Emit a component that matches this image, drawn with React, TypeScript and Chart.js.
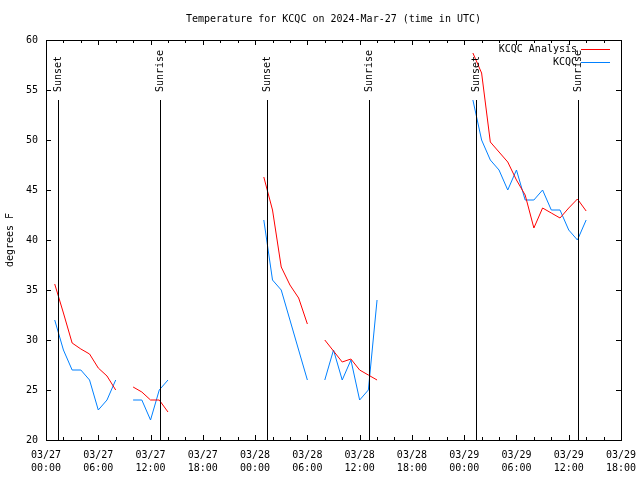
import React, { useEffect, useRef } from "react";
import { Chart, registerables } from "chart.js";

Chart.register(...registerables);

// Hours since 2024-03-27 00:00 UTC
const HOURS = [
  1, 2, 3, 4, 5, 6, 7, 8, 9, 10, 11, 12, 13, 14, 15, 16, 17, 18, 19, 20, 21,
  22, 23, 24, 25, 26, 27, 28, 29, 30, 31, 32, 33, 34, 35, 36, 37, 38, 39, 40,
  41, 42, 43, 44, 45, 46, 47, 48, 49, 50, 51, 52, 53, 54, 55, 56, 57, 58, 59,
  60, 61, 62,
];

const ANALYSIS = [
  35.6, 32.7, 29.7, 29.1, 28.6, 27.2, 26.4, 25.0, null, 25.3, 24.8, 24.0, 24.0,
  22.8, null, null, null, null, null, null, null, null, null, null, 46.3, 43.0,
  37.3, 35.5, 34.2, 31.6, null, 30.0, 28.9, 27.8, 28.1, 27.0, 26.5, 26.0, null,
  null, null, null, null, null, null, null, null, null, 58.7, 56.7, 49.8, 48.8,
  47.8, 46.0, 44.5, 41.2, 43.2, 42.7, 42.2, 43.2, 44.1, 42.9,
];

const OBSERVED = [
  32, 29, 27, 27, 26, 23, 24, 26, null, 24, 24, 22, 25, 26, null, null, null,
  null, null, null, null, null, null, null, 42, 36, 35, 32, 29, 26, null, 26,
  29, 26, 28, 24, 25, 34, null, null, null, null, null, null, null, null, null,
  null, 54, 50, 48, 47, 45, 47, 44, 44, 45, 43, 43, 41, 40, 42,
];

const SUNSETS = [1.4, 25.4, 49.4];
const SUNRISES = [13.1, 37.1, 61.1];

const X_MIN = 0;
const X_MAX = 66;
const Y_MIN = 20;
const Y_MAX = 60;

const TITLE = "Temperature for KCQC on 2024-Mar-27 (time in UTC)";
const Y_TITLE = "degrees F";
const SERIES_NAMES = ["KCQC Analysis", "KCQC"];
const COLORS = ["#ff0000", "#0080ff"];

const FONT = "'DejaVu Sans Mono', monospace";

function pad(n: number) {
  return n < 10 ? "0" + n : "" + n;
}

const overlay = {
  id: "overlay",
  afterDatasetsDraw(chart: any) {
    const { ctx, chartArea: a } = chart;
    const x = chart.scales.x;
    const y = chart.scales.y;
    ctx.save();
    ctx.strokeStyle = "#000";
    ctx.fillStyle = "#000";
    ctx.lineWidth = 1;
    ctx.font = `10px ${FONT}`;

    // sunrise / sunset lines
    const drawSun = (h: number, label: string) => {
      const px = Math.round(x.getPixelForValue(h)) + 0.5;
      ctx.beginPath();
      ctx.moveTo(px, 100);
      ctx.lineTo(px, a.bottom);
      ctx.stroke();
      ctx.save();
      ctx.translate(px, 92);
      ctx.rotate(-Math.PI / 2);
      ctx.textAlign = "left";
      ctx.textBaseline = "middle";
      ctx.fillText(label, 0, 0);
      ctx.restore();
    };
    SUNSETS.forEach((h) => drawSun(h, "Sunset"));
    SUNRISES.forEach((h) => drawSun(h, "Sunrise"));

    // border
    ctx.strokeRect(
      Math.round(a.left) + 0.5,
      Math.round(a.top) + 0.5,
      Math.round(a.right - a.left),
      Math.round(a.bottom - a.top)
    );

    // x ticks (inward, top & bottom)
    ctx.beginPath();
    for (let v = X_MIN; v <= X_MAX; v += 2) {
      const px = Math.round(x.getPixelForValue(v)) + 0.5;
      const len = v % 6 === 0 ? 5 : 3;
      ctx.moveTo(px, a.bottom);
      ctx.lineTo(px, a.bottom - len);
      ctx.moveTo(px, a.top);
      ctx.lineTo(px, a.top + len);
    }
    // y ticks (inward, left & right)
    for (let v = Y_MIN; v <= Y_MAX; v += 5) {
      const py = Math.round(y.getPixelForValue(v)) + 0.5;
      ctx.moveTo(a.left, py);
      ctx.lineTo(a.left + 5, py);
      ctx.moveTo(a.right, py);
      ctx.lineTo(a.right - 5, py);
    }
    ctx.stroke();

    // legend
    ctx.textAlign = "right";
    ctx.textBaseline = "middle";
    SERIES_NAMES.forEach((name, i) => {
      const ly = 49 + i * 13;
      ctx.fillStyle = "#000";
      ctx.fillText(name, 577, ly);
      ctx.strokeStyle = COLORS[i];
      ctx.beginPath();
      ctx.moveTo(581, ly + 0.5);
      ctx.lineTo(610, ly + 0.5);
      ctx.stroke();
    });

    // title
    ctx.fillStyle = "#000";
    ctx.textAlign = "center";
    ctx.fillText(TITLE, (a.left + a.right) / 2, 19);

    // y title
    ctx.save();
    ctx.translate(10, (a.top + a.bottom) / 2);
    ctx.rotate(-Math.PI / 2);
    ctx.textAlign = "center";
    ctx.textBaseline = "middle";
    ctx.fillText(Y_TITLE, 0, 0);
    ctx.restore();

    ctx.restore();
  },
};

export default function App() {
  const ref = useRef<HTMLCanvasElement | null>(null);

  useEffect(() => {
    if (!ref.current) return;
    const mk = (vals: (number | null)[]) =>
      HOURS.map((h, i) => ({ x: h, y: vals[i] }));
    const chart = new Chart(ref.current, {
      type: "line",
      data: {
        datasets: [
          {
            label: SERIES_NAMES[0],
            data: mk(ANALYSIS) as any,
            borderColor: COLORS[0],
            borderWidth: 1,
            pointRadius: 0,
            spanGaps: false,
            tension: 0,
          },
          {
            label: SERIES_NAMES[1],
            data: mk(OBSERVED) as any,
            borderColor: COLORS[1],
            borderWidth: 1,
            pointRadius: 0,
            spanGaps: false,
            tension: 0,
          },
        ],
      },
      options: {
        responsive: false,
        maintainAspectRatio: false,
        animation: false,
        events: [],
        layout: { padding: { top: 40, right: 19, left: 0, bottom: 0 } },
        plugins: {
          legend: { display: false },
          tooltip: { enabled: false },
          title: { display: false },
        },
        scales: {
          x: {
            type: "linear",
            min: X_MIN,
            max: X_MAX,
            grid: { display: false, drawTicks: false },
            border: { display: false },
            afterFit: (s: any) => {
              s.height = 40;
              s.paddingLeft = 0;
              s.paddingRight = 0;
            },
            ticks: {
              stepSize: 6,
              autoSkip: false,
              maxRotation: 0,
              minRotation: 0,
              padding: 9,
              color: "#000",
              font: { family: FONT, size: 10, lineHeight: 1.3 },
              callback: (v: any) => {
                const val = Number(v);
                const d = 27 + Math.floor(val / 24);
                const h = val % 24;
                return ["03/" + pad(d), pad(h) + ":00"];
              },
            },
          },
          y: {
            min: Y_MIN,
            max: Y_MAX,
            grid: { display: false, drawTicks: false },
            border: { display: false },
            afterFit: (s: any) => {
              s.width = 46;
              s.paddingTop = 0;
              s.paddingBottom = 0;
            },
            ticks: {
              stepSize: 5,
              padding: 8,
              color: "#000",
              font: { family: FONT, size: 10 },
            },
          },
        },
      },
      plugins: [overlay],
    });
    return () => chart.destroy();
  }, []);

  return (
    <div style={{ position: "absolute", left: 0, top: 0, width: 640, height: 480, background: "#fff" }}>
      <canvas ref={ref} width={640} height={480} style={{ width: 640, height: 480 }} />
    </div>
  );
}
